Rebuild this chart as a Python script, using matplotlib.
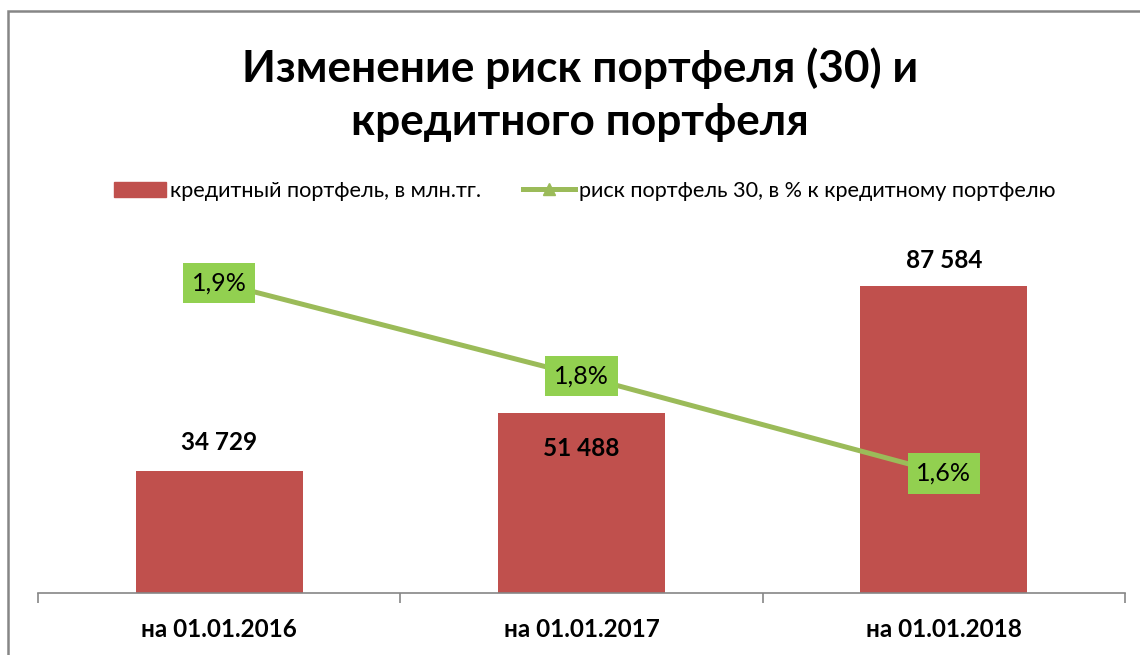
import matplotlib
matplotlib.use('Agg')
import matplotlib.pyplot as plt
from matplotlib.patches import Rectangle
from matplotlib.lines import Line2D

categories = ['на 01.01.2016', 'на 01.01.2017', 'на 01.01.2018']
portfolio = [34729, 51488, 87584]
risk30 = [1.86, 1.755, 1.645]
risk_labels = ['1,9%', '1,8%', '1,6%']
bar_label_offsets = [21, -26, 19]  # points, above (+) or inside (-) the bar top

BAR_COLOR = '#C0504D'
LINE_COLOR = '#9BBB59'
BOX_COLOR = '#92D050'
GRAY = '#868686'

plt.rcParams['font.family'] = ['Lato', 'DejaVu Sans']

fig = plt.figure(figsize=(11.4, 6.55), dpi=100)
ax = fig.add_axes([38 / 1140, 1 - 593 / 655, (1125 - 38) / 1140, 350 / 655])

x = list(range(len(categories)))
bars = ax.bar(x, portfolio, width=0.46, color=BAR_COLOR, zorder=2)
ax.set_xlim(-0.5, 2.5)
ax.set_ylim(0, 100000)
ax.set_yticks([])
for side in ['left', 'right', 'top']:
    ax.spines[side].set_visible(False)
ax.spines['bottom'].set_color(GRAY)
ax.spines['bottom'].set_linewidth(1.2)
ax.set_xticks([-0.5, 0.5, 1.5, 2.5])
ax.set_xticklabels([])
ax.tick_params(axis='x', length=7, width=1.2, color=GRAY, direction='out')
for xi, name in zip(x, categories):
    ax.text(xi, -0.105, name, transform=ax.get_xaxis_transform(), ha='center',
            va='center', fontsize=17.5, fontweight='bold')

for xi, val, off in zip(x, portfolio, bar_label_offsets):
    ax.annotate(f'{val:,}'.replace(',', ' '), (xi, val), xytext=(0, off),
                textcoords='offset points', ha='center', va='center',
                fontsize=17.5, fontweight='bold', zorder=5)

ax2 = ax.twinx()
ax2.set_ylim(1.51, 1.905)
ax2.set_yticks([])
for side in ['left', 'right', 'top', 'bottom']:
    ax2.spines[side].set_visible(False)
ax2.plot(x, risk30, color=LINE_COLOR, linewidth=3.6, marker='^', markersize=8, zorder=3)
for xi, val, lab in zip(x, risk30, risk_labels):
    ax2.text(xi, val, lab, ha='center', va='center', fontsize=18, zorder=6,
             bbox=dict(boxstyle='square,pad=0.35', facecolor=BOX_COLOR, edgecolor='none'))

fig.text(0.509, 1 - 68 / 655, 'Изменение риск портфеля (30) и', ha='center', va='center',
         fontsize=31.8, fontweight='bold')
fig.text(0.509, 1 - 122 / 655, 'кредитного портфеля', ha='center', va='center',
         fontsize=31.8, fontweight='bold')

handles = [Rectangle((0, 0), 1, 1, color=BAR_COLOR),
           Line2D([], [], color=LINE_COLOR, linewidth=3.6, marker='^', markersize=8)]
fig.legend(handles, ['кредитный портфель, в млн.тг.', 'риск портфель 30, в % к кредитному портфелю'],
           loc='center', bbox_to_anchor=(0.513, 1 - 191 / 655), ncol=2, frameon=False,
           fontsize=15.6, handlelength=2.4, handletextpad=0.22, columnspacing=1.9)

fig.add_artist(Rectangle((8 / 1140, -0.1), 1.2, 1 - 11 / 655 + 0.1, transform=fig.transFigure,
                         fill=False, edgecolor=GRAY, linewidth=1.8))

fig.savefig('out.png', dpi=100)
